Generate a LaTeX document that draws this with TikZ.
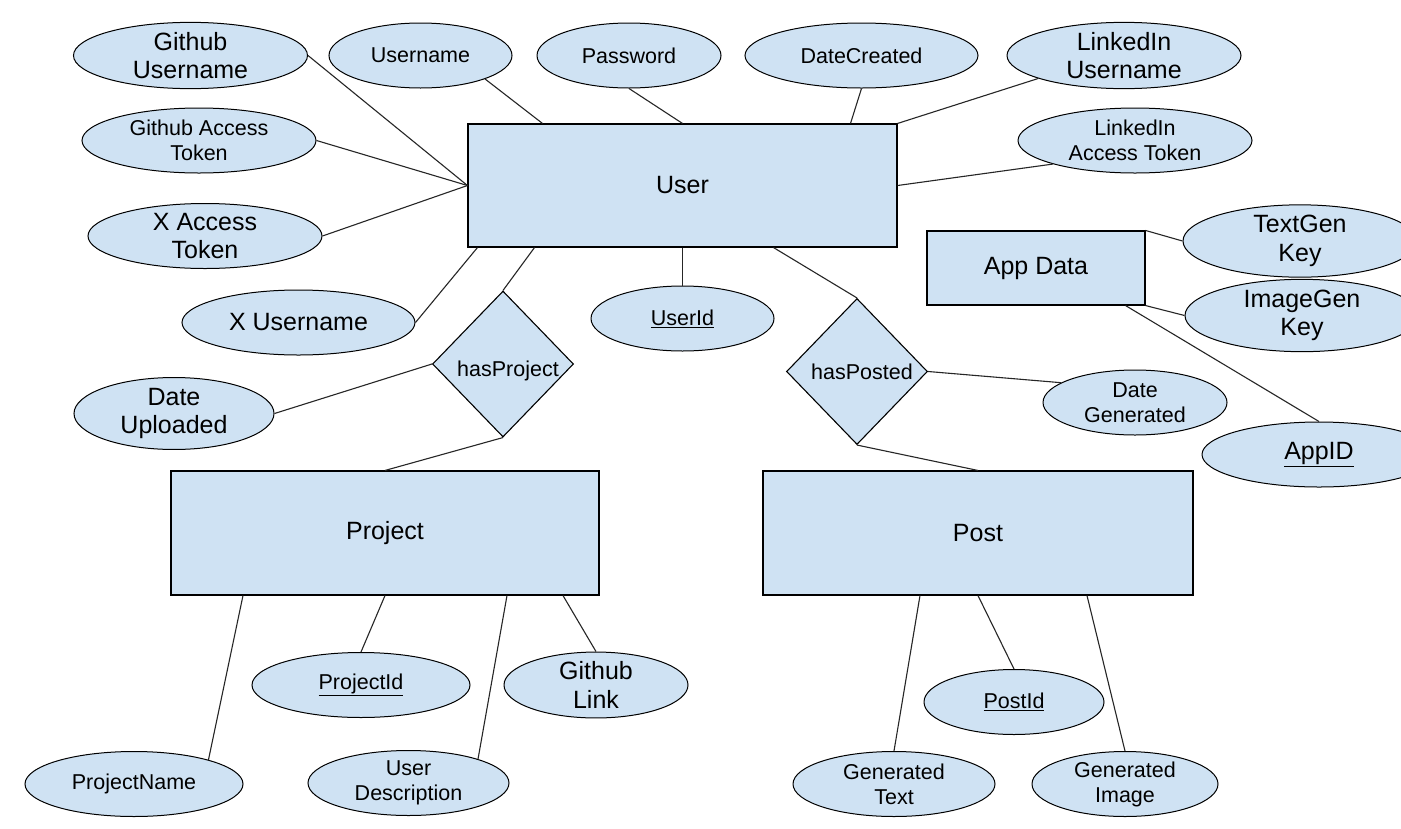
\documentclass[tikz,border=0pt]{standalone}
\usepackage{fontspec}
\setmainfont{Liberation Sans}
\usetikzlibrary{shapes.geometric}

\definecolor{erfill}{HTML}{CFE2F3}
\newcommand{\attrsize}{\fontsize{21.5}{25}\selectfont}
\newcommand{\bigsize}{\fontsize{25}{28.5}\selectfont}

\tikzset{
  entity/.style={draw, fill=erfill, line width=1.1pt, inner sep=0pt, font=\bigsize},
  attr/.style={ellipse, draw, fill=erfill, line width=1pt, inner sep=0pt, minimum height=65pt, align=center, font=\attrsize},
  bigattr/.style={attr, font=\bigsize},
  relation/.style={diamond, draw, fill=erfill, line width=1.1pt, inner sep=0pt, minimum width=141pt, minimum height=146pt, font=\attrsize},
  link/.style={line width=1.1pt, black!85}
}

\begin{document}
\begin{tikzpicture}[x=1pt,y=-1pt]
    \clip (0,0) rectangle (1401,828);
    \fill[white] (0,0) rectangle (1401,828);
    % entities
    \node[entity, minimum width=429pt, minimum height=123pt] (user) at (682.5,185.5) {User};
    \node[entity, minimum width=218pt, minimum height=74pt] (appdata) at (1036,268) {App Data};
    \node[entity, minimum width=428pt, minimum height=124pt] (project) at (385,533) {Project};
    \node[entity, minimum width=430pt, minimum height=124pt] (post) at (978,533) {Post};
    % relations
    \node[relation, label={[font=\attrsize, xshift=5pt, yshift=-7pt]center:hasProject}] (hasproj) at (503,364) {};
    \node[relation, label={[font=\attrsize, xshift=5pt]center:hasPosted}] (hasposted) at (857,371.5) {};
    % user attributes
    \node[bigattr, minimum width=234pt] (ghuser) at (190.5,55.5) {Github\\Username};
    \node[attr, minimum width=183pt] (uname) at (420.5,55.5) {Username};
    \node[attr, minimum width=184pt] (passwd) at (629,55.5) {Password};
    \node[attr, minimum width=233pt] (datecreated) at (861.5,55.5) {DateCreated};
    \node[bigattr, minimum width=234pt] (liuser) at (1124,55.5) {LinkedIn\\Username};
    \node[attr, minimum width=234pt] (ghtoken) at (199,140.5) {Github Access\\Token};
    \node[attr, minimum width=234pt] (litoken) at (1135,140.5) {LinkedIn\\Access Token};
    \node[bigattr, minimum width=234pt] (xtoken) at (205,236) {X Access\\Token};
    \node[bigattr, minimum width=233pt] (xuser) at (298.5,322.5) {X Username};
    \node[attr, minimum width=183pt] (userid) at (682.5,318.5) {\underline{UserId}};
    % app data attributes
    \node[bigattr, minimum width=234pt] (textgen) at (1300,241) {TextGen\\Key};
    \node[bigattr, minimum width=234pt] (imagegen) at (1302,315.5) {ImageGen\\Key};
    \node[bigattr, minimum width=234pt] (appid) at (1319,454.5) {\underline{AppID}};
    % relation attributes
    \node[bigattr, minimum width=200pt] (dateup) at (174,413.5) {Date\\Uploaded};
    \node[attr, minimum width=184pt] (dategen) at (1135,402.5) {Date\\Generated};
    % project attributes
    \node[attr, minimum width=218pt] (pname) at (134,784) {ProjectName};
    \node[attr, minimum width=218pt] (pid) at (361,685) {\underline{ProjectId}};
    \node[attr, minimum width=201pt] (udesc) at (408.5,783) {User\\Description};
    \node[bigattr, minimum width=184pt] (ghlink) at (596,685) {Github\\Link};
    % post attributes
    \node[attr, minimum width=202pt] (gentext) at (894,784) {Generated\\Text};
    \node[attr, minimum width=180pt] (postid) at (1014,702) {\underline{PostId}};
    \node[attr, minimum width=186pt] (genimage) at (1125,784) {Generated\\Image};

    % connectors
    \draw[link] (ghuser.east) -- (user.west);
    \draw[link] (ghtoken.east) -- (user.west);
    \draw[link] (xtoken.east) -- (user.west);
    \draw[link] (uname.-20) -- ([xshift=-140pt]user.north);
    \draw[link] (passwd.south) -- (user.north);
    \draw[link] (datecreated.south) -- ([xshift=168pt]user.north);
    \draw[link] (liuser.195) -- (user.north east);
    \draw[link] (litoken.196) -- (user.east);
    \draw[link] (xuser.east) -- ([xshift=10pt]user.south west);
    \draw[link] (user.south) -- (userid.north);
    \draw[link] ([xshift=-148pt]user.south) -- (hasproj.north);
    \draw[link] ([xshift=91pt]user.south) -- (hasposted.north);
    \draw[link] (dateup.east) -- (hasproj.west);
    \draw[link] (hasproj.south) -- (project.north);
    \draw[link] (hasposted.east) -- (dategen.165);
    \draw[link] (hasposted.south) -- (post.north);
    \draw[link] ([xshift=-142pt]project.south) -- (pname.18);
    \draw[link] (project.south) -- (pid.north);
    \draw[link] ([xshift=122pt]project.south) -- (udesc.19);
    \draw[link] ([xshift=178pt]project.south) -- (ghlink.north);
    \draw[link] ([xshift=-58pt]post.south) -- (gentext.north);
    \draw[link] (post.south) -- (postid.north);
    \draw[link] ([xshift=109pt]post.south) -- (genimage.north);
    \draw[link] (appdata.north east) -- (textgen.west);
    \draw[link] (appdata.south east) -- (imagegen.west);
    \draw[link] ([xshift=-20pt]appdata.south east) -- (appid.north);
\end{tikzpicture}
\end{document}
